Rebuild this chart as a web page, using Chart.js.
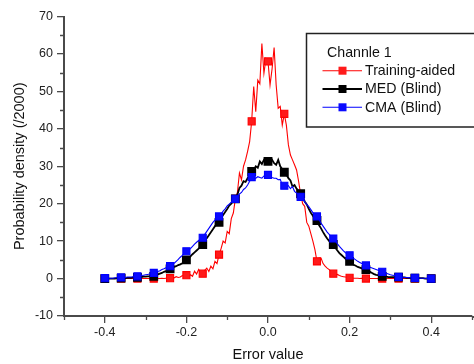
<!DOCTYPE html>
<html>
<head>
<meta charset="utf-8">
<script src="https://cdn.jsdelivr.net/npm/chart.js@4.4.0/dist/chart.umd.min.js"></script>
<style>
  html, body { margin: 0; padding: 0; background: #fff; overflow: hidden; }
  #wrap { width: 474px; height: 364px; }
</style>
</head>
<body>
<div id="wrap"><canvas id="densityChart" width="474" height="364"></canvas></div>
<script>
// error values sampled every 0.005 from -0.4 to 0.4 (161 bins), marker every 8th bin
const gridStart = -0.4;
const gridStep = 0.005;

const trainingAided = [
  0, 0, 0, 0, 0, 0, 0, 0,
  0, 0, 0, 0, 0, 0, 0, 0,
  0, 0, 0, 0, 0, 0, 0, 0,
  0, 0, 0, 0, 0.1, 0, 0.1, 0.1,
  0.1, 0.3, 0.2, 0.5, 0.3, 0.4, 0.8, 0.5,
  0.9, 0.5, 1.0, 0.6, 2.0, 1.2, 2.4, 1.4,
  1.3, 2.2, 2.8, 1.9, 3.3, 2.6, 4.6, 4.0,
  6.4, 8.0, 10, 9.5, 12.6, 12, 16, 17.5,
  21.3, 23, 28.2, 26.4, 30, 31.7, 34, 36.6,
  42, 51.3, 44.6, 53, 52, 62.8, 54.8, 58.8,
  58, 51.7, 56, 61.7, 51.7, 45.5, 46, 41,
  44, 41, 35.7, 33, 31.7, 30.4, 29, 26,
  22.5, 20, 19.3, 15, 14, 12, 10, 7.7,
  4.6, 5.5, 5.5, 4, 3.3, 2.8, 2.4, 1.8,
  1.3, 1.0, 1.1, 0.8, 0.6, 0.5, 0.4, 0.3,
  0.2, 0.2, 0.1, 0.1, 0.1, 0, 0.1, 0,
  0, 0, 0, 0, 0, 0, 0, 0,
  0, 0, 0, 0, 0, 0, 0, 0,
  0, 0, 0, 0, 0, 0, 0, 0,
  0, 0, 0, 0, 0, 0, 0, 0,
  0
];

const medBlind = [
  0, 0, 0, 0, 0, 0, 0.1, 0.1,
  0.1, 0.1, 0.1, 0.2, 0.2, 0.2, 0.3, 0.3,
  0.3, 0.4, 0.4, 0.5, 0.5, 0.6, 0.6, 0.6,
  0.6, 0.9, 1.1, 1.3, 1.5, 1.8, 2.0, 2.3,
  2.6, 2.9, 3.1, 3.3, 3.6, 3.8, 4.1, 4.5,
  5.0, 5.4, 5.9, 6.5, 7.0, 7.5, 8.0, 8.5,
  9.1, 9.9, 10.8, 11.6, 12.4, 13.2, 14.0, 14.6,
  15.0, 16.2, 17.0, 17.8, 18.6, 19.5, 20.0, 20.8,
  21.3, 22.4, 24.2, 24.8, 26, 25.8, 26.8, 27.8,
  28.6, 29.0, 30, 29.6, 31.3, 30.6, 31.7, 31.2,
  31.3, 31.0, 31.7, 30.8, 30.4, 31.7, 30, 29.2,
  28.4, 27.8, 26.8, 26.2, 24.6, 25.0, 24.0, 23.4,
  22.7, 21.8, 20.6, 19.8, 18.6, 17.6, 16.8, 16.0,
  15.5, 14.3, 13.4, 12.4, 11.5, 10.7, 10.0, 9.6,
  9.1, 8.2, 7.5, 6.8, 6.3, 5.8, 5.3, 4.9,
  4.6, 4.1, 3.7, 3.4, 3.1, 2.9, 2.7, 2.5,
  2.4, 2.1, 1.8, 1.5, 1.2, 1.0, 0.9, 0.7,
  0.6, 0.5, 0.5, 0.4, 0.4, 0.4, 0.4, 0.4,
  0.4, 0.3, 0.3, 0.3, 0.2, 0.2, 0.2, 0.2,
  0.1, 0.1, 0.1, 0.1, 0.1, 0, 0, 0,
  0
];

const cmaBlind = [
  0.1, 0.1, 0.1, 0.1, 0.1, 0.2, 0.2, 0.2,
  0.3, 0.3, 0.3, 0.4, 0.4, 0.4, 0.5, 0.5,
  0.6, 0.7, 0.8, 0.9, 1.0, 1.1, 1.2, 1.3,
  1.5, 1.7, 1.9, 2.1, 2.4, 2.6, 2.9, 3.1,
  3.3, 3.7, 4.1, 4.6, 5.1, 5.7, 6.2, 6.8,
  7.3, 7.6, 8.0, 8.6, 9.2, 9.7, 10.2, 10.6,
  10.9, 11.8, 12.6, 13.4, 14.2, 15.0, 15.6, 16.2,
  16.6, 17.2, 18.0, 18.6, 19.4, 19.9, 20.4, 21.0,
  21.3, 21.8, 22.6, 23.0, 23.8, 24.2, 25.0, 26.0,
  27.1, 26.6, 26.8, 27.2, 27.0, 26.8, 27.4, 27.3,
  27.7, 27.3, 27.0, 26.8, 26.8, 26.4, 26.5, 25.0,
  24.8, 24.6, 24.8, 24.0, 24.6, 23.3, 22.8, 22.2,
  21.8, 21.2, 20.5, 19.8, 19.2, 18.4, 17.6, 17.0,
  16.6, 15.8, 14.8, 14.0, 13.2, 12.4, 11.8, 11.2,
  10.7, 10.0, 9.3, 8.6, 8.0, 7.4, 6.9, 6.5,
  6.2, 5.8, 5.4, 5.0, 4.6, 4.3, 4.0, 3.7,
  3.5, 3.2, 3.0, 2.8, 2.6, 2.4, 2.2, 2.0,
  1.8, 1.6, 1.4, 1.2, 1.0, 0.9, 0.8, 0.6,
  0.45, 0.4, 0.35, 0.3, 0.3, 0.25, 0.2, 0.2,
  0.2, 0.2, 0.15, 0.1, 0.1, 0.1, 0.05, 0,
  0
];

const xTickValues = [-0.4, -0.2, 0, 0.2, 0.4];
const xMinorTicks = [-0.5, -0.3, -0.1, 0.1, 0.3, 0.5];
const yTickValues = [-10, 0, 10, 20, 30, 40, 50, 60, 70];
const yMinorTicks = [-5, 5, 15, 25, 35, 45, 55, 65];
const legendTitle = 'Channle 1';

const FONT = '"Liberation Sans", Arial, sans-serif';
const AXIS_COLOR = '#4a4a4a';

function toPoints(values) {
  return values.map((v, i) => ({ x: gridStart + i * gridStep, y: v }));
}

function markerRadius(ctx) {
  return ctx.index % 8 === 0 ? 5 : 0;
}

// minor ticks on left and bottom axes
const minorTicks = {
  id: 'minorTicks',
  afterDraw(chart) {
    const { ctx, chartArea, scales } = chart;
    ctx.save();
    ctx.strokeStyle = AXIS_COLOR;
    ctx.lineWidth = 1.3;
    ctx.beginPath();
    xMinorTicks.forEach(v => {
      const px = Math.round(scales.x.getPixelForValue(v)) + 0.5;
      ctx.moveTo(px, chartArea.bottom);
      ctx.lineTo(px, chartArea.bottom + 4);
    });
    yMinorTicks.forEach(v => {
      const py = Math.round(scales.y.getPixelForValue(v)) + 0.5;
      ctx.moveTo(chartArea.left, py);
      ctx.lineTo(chartArea.left - 4, py);
    });
    ctx.stroke();
    // bottom axis runs on to the canvas edge
    ctx.lineWidth = 2;
    ctx.beginPath();
    ctx.moveTo(chartArea.right, chartArea.bottom + 1);
    ctx.lineTo(chart.width, chartArea.bottom + 1);
    ctx.stroke();
    ctx.restore();
  }
};

// boxed legend inside the plot, upper right (box runs off the right edge)
const boxLegend = {
  id: 'boxLegend',
  afterDraw(chart) {
    const { ctx } = chart;
    const left = 306.5, top = 33.5, bottom = 127;
    const right = chart.width + 5;
    ctx.save();
    ctx.fillStyle = '#fff';
    ctx.fillRect(left, top, right - left, bottom - top);
    ctx.strokeStyle = '#222';
    ctx.lineWidth = 1.5;
    ctx.beginPath();
    ctx.moveTo(right, top);
    ctx.lineTo(left, top);
    ctx.lineTo(left, bottom);
    ctx.lineTo(right, bottom);
    ctx.stroke();

    ctx.fillStyle = '#111';
    ctx.font = '14.2px ' + FONT;
    ctx.textBaseline = 'middle';
    ctx.textAlign = 'left';
    ctx.fillText(legendTitle, 327, 53);

    chart.data.datasets.forEach((ds, i) => {
      const y = 70.7 + i * 18.3;
      ctx.strokeStyle = ds.borderColor;
      ctx.lineWidth = ds.borderWidth;
      ctx.beginPath();
      ctx.moveTo(322.5, y);
      ctx.lineTo(362, y);
      ctx.stroke();
      ctx.fillStyle = ds.backgroundColor;
      ctx.fillRect(338.5, y - 4, 8, 8);
      ctx.fillStyle = '#111';
      ctx.fillText(ds.label, 365, y + 0.5);
    });
    ctx.restore();
  }
};

new Chart(document.getElementById('densityChart'), {
  type: 'line',
  data: {
    datasets: [
      {
        label: 'Training-aided',
        data: toPoints(trainingAided),
        borderColor: '#ff0000',
        backgroundColor: '#ff1a1a',
        borderWidth: 1.1,
        order: 3
      },
      {
        label: 'MED (Blind)',
        data: toPoints(medBlind),
        borderColor: '#000000',
        backgroundColor: '#000000',
        borderWidth: 1.8,
        order: 2
      },
      {
        label: 'CMA (Blind)',
        data: toPoints(cmaBlind),
        borderColor: '#0000ff',
        backgroundColor: '#0a0aff',
        borderWidth: 1.1,
        order: 1
      }
    ]
  },
  options: {
    responsive: false,
    animation: false,
    events: [],
    layout: { autoPadding: false, padding: { top: 16.5, right: 2, bottom: 0, left: 0 } },
    elements: {
      line: { tension: 0 },
      point: {
        pointStyle: 'rect',
        radius: markerRadius,
        hoverRadius: markerRadius,
        borderWidth: 0
      }
    },
    plugins: {
      legend: { display: false },
      tooltip: { enabled: false }
    },
    scales: {
      x: {
        type: 'linear',
        min: -0.5,
        max: 0.5,
        afterBuildTicks: scale => { scale.ticks = xTickValues.map(v => ({ value: v })); },
        afterFit: scale => { scale.height = 48; scale.paddingLeft = 0; scale.paddingRight = 0; },
        grid: { drawOnChartArea: false, tickLength: 7, color: AXIS_COLOR, lineWidth: 1.3 },
        border: { color: AXIS_COLOR, width: 2 },
        ticks: {
          padding: 2,
          color: '#222',
          font: { family: FONT, size: 12.5 },
          callback: v => v.toFixed(1)
        },
        title: {
          display: true,
          text: 'Error value',
          color: '#111',
          padding: { top: 0, bottom: 0 },
          font: { family: FONT, size: 14.5, lineHeight: 1.2 }
        }
      },
      y: {
        min: -10,
        max: 70,
        afterBuildTicks: scale => { scale.ticks = yTickValues.map(v => ({ value: v })); },
        afterFit: scale => { scale.width = 64; },
        grid: { drawOnChartArea: false, tickLength: 7, color: AXIS_COLOR, lineWidth: 1.3 },
        border: { color: AXIS_COLOR, width: 2 },
        ticks: {
          padding: 4,
          color: '#222',
          font: { family: FONT, size: 12.5 }
        },
        title: {
          display: true,
          text: 'Probability density (/2000)',
          color: '#111',
          padding: { top: 11, bottom: 0 },
          font: { family: FONT, size: 14.5, lineHeight: 1.2 }
        }
      }
    }
  },
  plugins: [minorTicks, boxLegend]
});
</script>
</body>
</html>
